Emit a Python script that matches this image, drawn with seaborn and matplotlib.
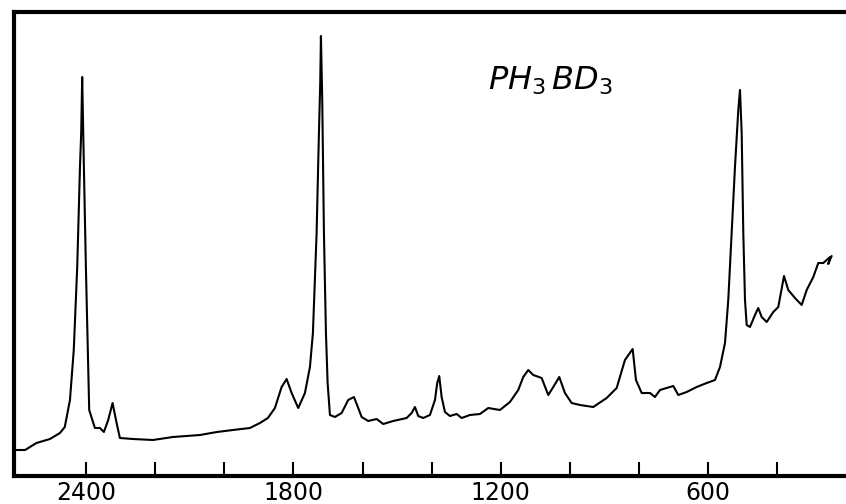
import matplotlib
matplotlib.use("Agg")
import matplotlib.pyplot as plt
import seaborn as sns
import pandas as pd

# Wavenumber (cm-1)
wavenumber = [2606, 2577, 2544, 2505, 2476, 2462, 2447, 2436, 2426, 2418,
              2414.5, 2411.6, 2406.7, 2400.9, 2394.2, 2391.3, 2374.8, 2360.3, 2348.8, 2336.3,
              2323.6, 2312, 2302.4, 2264.8, 2206.9, 2149, 2070.8, 2021.6, 1975.3, 1926.1,
              1897.1, 1874, 1853.7, 1834.3, 1819.8, 1805.3, 1786.2, 1766.8, 1752.3, 1743.7,
              1733, 1726.3, 1722.5, 1720.5, 1716.7, 1711.8, 1706, 1701.1, 1694.4, 1680,
              1660.6, 1641.5, 1625, 1612.5, 1602.7, 1583.6, 1559.2, 1540.1, 1511.2, 1472.4,
              1457.9, 1448.4, 1438.8, 1424.3, 1404.9, 1390.4, 1383.8, 1378, 1371.1, 1361.5,
              1347, 1327.6, 1313.2, 1289.1, 1260.2, 1236.1, 1202.3, 1173.3, 1149.3, 1134.8,
              1120.3, 1105.9, 1081.5, 1062.4, 1047.9, 1030.6, 1014.1, 994.7, 970.6, 932.1,
              893.3, 864.4, 840.4, 818.1, 808.5, 792, 768, 753.5, 739, 700.5,
              686, 661.7, 632.8, 603.8, 579.8, 565.3, 550.8, 541.3, 531.4, 521.9,
              512.3, 507.4, 502.5, 497.8, 492.9, 488, 478.5, 464, 454.5, 444.6,
              430.1, 411, 396.5, 380, 367.6, 348.2, 328.8, 314.3, 295.2, 280.7,
              266.2, 256.4, 246.9, 252, 242]
# Relative intensity (arbitrary units)
intensity = [26, 26, 33, 37, 43, 49, 76, 126, 209, 309,
             343, 399, 309, 209, 109, 66, 48, 48, 44, 56,
             73, 53, 38, 37, 36, 39, 41, 44, 46, 48,
             53, 58, 68, 89, 97, 83, 68, 83, 109, 143,
             243, 343, 393, 440, 376, 243, 143, 93, 61, 59,
             63, 76, 79, 68, 59, 55, 57, 52, 55, 58,
             63, 69, 60, 58, 61, 76, 93, 100, 79, 64,
             60, 62, 58, 61, 62, 68, 66, 74, 86, 99,
             106, 101, 98, 81, 89, 99, 83, 73, 71, 69,
             78, 88, 116, 127, 96, 83, 83, 79, 86, 90,
             81, 84, 89, 93, 96, 109, 133, 176, 243, 309,
             366, 386, 343, 243, 176, 151, 149, 161, 168, 159,
             154, 164, 169, 200, 186, 178, 171, 186, 199, 213,
             213, 216, 219, 212, 220]

tick_values = [2400, 2200, 2000, 1800, 1600, 1400, 1200, 1000, 800, 600, 400]
tick_labels = ["2400", "", "", "1800", "", "", "1200", "", "", "600", ""]
title_text = r"$PH_3\,BD_3$"

df = pd.DataFrame({"wavenumber": wavenumber, "intensity": intensity})

sns.set_theme(style="white")
plt.rcParams["font.family"] = ["DejaVu Sans"]

fig = plt.figure(figsize=(8.46, 5.04), dpi=100)
ax = fig.add_axes([14 / 846, (504 - 475.5) / 504, 1 - 14 / 846, (475.5 - 11.7) / 504])

sns.lineplot(data=df, x="wavenumber", y="intensity", ax=ax, color="black",
             linewidth=1.5, estimator=None, sort=False)

ax.set_xlim(2609, 200.5)
ax.set_ylim(0.5, 464.3)
ax.set_xlabel("")
ax.set_ylabel("")
ax.set_yticks([])
ax.set_xticks(tick_values)
ax.set_xticklabels(tick_labels)
ax.tick_params(axis="x", direction="in", length=10, width=1.5, pad=4,
               labelsize=17, colors="black", bottom=True)

for side in ["left", "top", "bottom"]:
    ax.spines[side].set_visible(True)
    ax.spines[side].set_linewidth(3)
    ax.spines[side].set_color("black")
ax.spines["right"].set_visible(False)

ax.text(0.5697, 0.8312, title_text, transform=ax.transAxes, fontsize=23,
        ha="left", va="baseline", color="black")

fig.savefig("out.png", dpi=100, facecolor="white")
